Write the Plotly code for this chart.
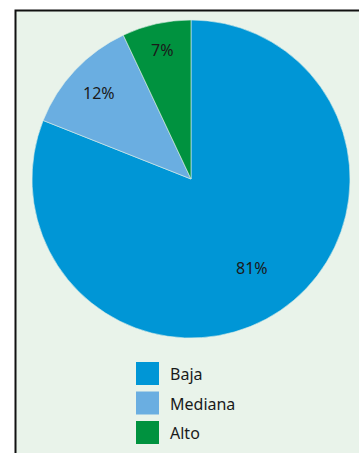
import math
import plotly.graph_objects as go

labels = ["Baja", "Mediana", "Alto"]
values = [81, 12, 7]
text_labels = ["81%", "12%", "7%"]
colors = ["#0096D6", "#6AAEE1", "#00923F"]

W, H = 359, 453
CX, CY, R = 191, 179, 159
label_radius = [0.68, 0.79, 0.83]

fig = go.Figure()
fig.add_trace(go.Pie(
    labels=labels, values=values, textinfo="none",
    sort=False, direction="clockwise", rotation=0,
    marker=dict(colors=colors, line=dict(color="#DDEEE8", width=0.6)),
    domain=dict(x=[(CX - R) / W, (CX + R) / W], y=[1 - (CY + R) / H, 1 - (CY - R) / H]),
    showlegend=False,
))

shapes = [dict(type="rect", xref="paper", yref="paper", x0=15.5 / W, x1=1.05, y0=-0.05, y1=1 - 10.5 / H,
               fillcolor="#E9F3EA", line=dict(color="#111111", width=2), layer="below")]
annotations = []

total = sum(values)
cum = 0
for v, t, rf in zip(values, text_labels, label_radius):
    mid = (cum + v / 2) / total * 2 * math.pi
    cum += v
    px = CX + rf * R * math.sin(mid)
    py = CY - rf * R * math.cos(mid)
    annotations.append(dict(xref="paper", yref="paper", x=px / W, y=1 - py / H, text=t,
                            showarrow=False, xanchor="center", yanchor="middle",
                            font=dict(family="Noto Sans", size=16, color="#1a1a1a")))

y0 = 362
for i, (lab, col) in enumerate(zip(labels, colors)):
    top = y0 + i * 29.5
    shapes.append(dict(type="rect", xref="paper", yref="paper",
                       x0=136 / W, x1=159 / W, y0=1 - (top + 23) / H, y1=1 - top / H,
                       fillcolor=col, line=dict(width=0)))
    annotations.append(dict(xref="paper", yref="paper", x=168 / W, y=1 - (top + 12) / H,
                            text=lab, showarrow=False, xanchor="left", yanchor="middle",
                            font=dict(family="Noto Sans", size=16, color="#1a1a1a")))

fig.update_layout(width=W, height=H, margin=dict(l=0, r=0, t=0, b=0),
                  paper_bgcolor="white", plot_bgcolor="white",
                  shapes=shapes, annotations=annotations)
fig.write_html("out.html")
